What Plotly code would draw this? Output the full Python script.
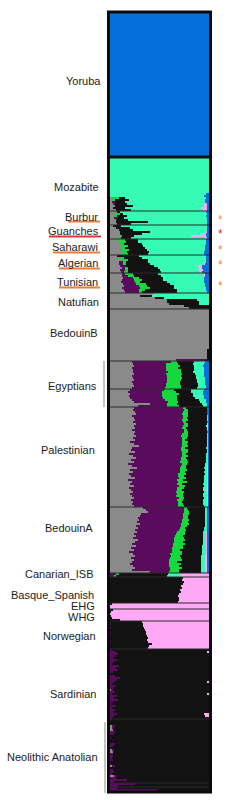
import plotly.graph_objects as go

# ---------------- data ----------------
# ancestry components, stacked left -> right
COMPONENTS = ["gray", "purple", "green", "black", "teal", "pink", "blue"]
COLORS = ["#8a8a8a", "#5a0b5e", "#14d83c", "#121212", "#35fbb6", "#ffa8f6", "#0570da"]

# each row = one individual: (gray, purple, green, black, teal, pink, blue) in %
YORUBA = [(0, 0, 0, 0, 0, 0, 100)] * 72
MOZABITE = [(0, 0, 0, 0, 100, 0, 0)] * 18 + [
    (0, 0, 0, 0, 97, 0, 3), (0, 0, 0, 0, 95, 0, 5), (4, 0, 5, 6, 82, 0, 3),
    (3, 0, 2, 14, 77, 0, 4), (2, 3, 0, 10, 81, 0, 4), (4, 1, 0, 12, 78, 3, 2),
    (5, 0, 0, 18, 72, 3, 2), (3, 0, 0, 12, 77, 6, 2), (6, 0, 0, 15, 73, 4, 2)]
BURBUR = [(7, 0, 0, 3, 87, 0, 3), (6, 0, 5, 2, 85, 0, 2), (5, 0, 2, 10, 80, 0, 3),
          (4, 4, 0, 6, 84, 0, 2), (6, 0, 0, 12, 80, 0, 2), (6, 0, 0, 32, 60, 0, 2),
          (7, 0, 0, 14, 77, 0, 2)]
GUANCHES = [(3, 0, 0, 8, 87, 0, 2), (6, 0, 0, 14, 78, 0, 2), (9, 0, 0, 14, 75, 0, 2),
            (10, 0, 0, 30, 57, 1, 2), (10, 0, 0, 22, 60, 5, 3), (12, 0, 0, 12, 58, 15, 3),
            (8, 0, 3, 10, 75, 2, 2)]
SAHARAWI = [(10, 0, 5, 13, 69, 0, 3), (8, 0, 8, 12, 69, 0, 3), (11, 0, 3, 18, 65, 0, 3),
            (12, 0, 6, 15, 63, 0, 4), (10, 0, 5, 20, 61, 0, 4), (12, 0, 7, 18, 59, 0, 4),
            (13, 0, 4, 22, 56, 0, 5), (12, 0, 6, 20, 56, 1, 5)]
ALGERIAN = [(7, 0, 0, 22, 68, 0, 3), (10, 0, 4, 18, 65, 0, 3), (12, 0, 6, 20, 59, 0, 3),
            (9, 4, 3, 22, 58, 1, 3), (9, 5, 2, 24, 55, 1, 4), (10, 6, 0, 28, 45, 4, 7),
            (12, 4, 2, 30, 42, 3, 7), (10, 5, 3, 32, 40, 4, 6), (11, 3, 4, 34, 39, 2, 7)]
TUNISIAN = [(12, 3, 8, 25, 47, 1, 4), (12, 6, 6, 28, 43, 1, 4), (13, 10, 6, 25, 41, 0, 5),
            (12, 12, 8, 22, 41, 0, 5), (11, 14, 5, 28, 37, 0, 5), (13, 13, 10, 25, 35, 0, 4),
            (14, 15, 8, 28, 31, 0, 4), (12, 18, 10, 25, 32, 0, 3), (14, 15, 6, 33, 29, 0, 3),
            (15, 14, 3, 36, 30, 0, 2)]
NATUFIAN = [(43, 0, 0, 0, 57, 0, 0), (30, 0, 0, 12, 58, 0, 0), (45, 0, 0, 10, 45, 0, 0),
            (58, 0, 0, 30, 12, 0, 0), (58, 0, 0, 32, 10, 0, 0), (60, 0, 0, 30, 10, 0, 0),
            (75, 0, 0, 25, 0, 0, 0), (80, 0, 0, 20, 0, 0, 0)]
BEDOUIN_B = [(100, 0, 0, 0, 0, 0, 0)] * 20 + [(98, 0, 0, 2, 0, 0, 0)] * 5 + [(67, 30, 0, 3, 0, 0, 0)]
EGYPTIANS_1 = [(22, 40, 6, 17, 11, 0, 4), (23, 34, 12, 15, 11, 0, 5), (24, 33, 14, 14, 9, 0, 6),
               (22, 35, 12, 16, 10, 0, 5), (23, 34, 15, 13, 10, 0, 5), (23, 36, 13, 12, 11, 0, 5),
               (24, 33, 16, 13, 9, 0, 5), (22, 36, 14, 15, 8, 0, 5), (23, 35, 15, 14, 9, 0, 4),
               (24, 34, 14, 16, 8, 0, 4), (22, 36, 13, 17, 8, 0, 4), (23, 34, 14, 18, 7, 0, 4),
               (24, 33, 15, 17, 8, 0, 3), (22, 34, 16, 16, 9, 0, 3)]
EGYPTIANS_2 = [(20, 35, 10, 17, 13, 0, 5), (18, 35, 14, 15, 12, 0, 6), (20, 33, 17, 14, 10, 0, 6),
               (19, 34, 15, 16, 11, 0, 5), (20, 34, 14, 18, 9, 0, 5), (22, 34, 12, 22, 7, 0, 3),
               (24, 35, 10, 22, 6, 0, 3), (40, 18, 10, 25, 5, 0, 2), (28, 30, 12, 24, 4, 0, 2)]
PALESTINIAN = [
    (24, 50, 3, 21, 0, 0, 2), (23, 52, 4, 19, 0, 0, 2), (25, 49, 5, 19, 0, 0, 2), (26, 47, 6, 19, 0, 0, 2),
    (22, 52, 5, 19, 1, 0, 1), (24, 50, 4, 20, 1, 0, 1), (25, 48, 6, 19, 1, 0, 1), (23, 51, 3, 21, 0, 0, 2),
    (26, 49, 4, 19, 0, 1, 1), (24, 50, 5, 18, 1, 1, 1), (25, 48, 4, 21, 0, 1, 1), (22, 53, 3, 20, 1, 0, 1),
    (25, 50, 4, 19, 0, 0, 2), (24, 49, 6, 19, 1, 0, 1), (26, 46, 7, 19, 1, 0, 1), (23, 50, 5, 20, 1, 0, 1),
    (25, 48, 3, 22, 1, 0, 1), (20, 53, 6, 19, 1, 0, 1), (24, 49, 5, 20, 1, 0, 1), (29, 44, 6, 19, 1, 0, 1),
    (22, 50, 4, 21, 2, 0, 1), (21, 51, 7, 19, 1, 0, 1), (25, 48, 6, 19, 1, 0, 1), (19, 54, 4, 20, 2, 0, 1),
    (23, 50, 6, 18, 2, 0, 1), (26, 46, 5, 20, 2, 0, 1), (21, 51, 6, 19, 2, 0, 1), (24, 47, 8, 18, 2, 0, 1),
    (18, 55, 5, 18, 3, 0, 1), (22, 50, 5, 19, 2, 1, 1), (27, 44, 6, 18, 3, 1, 1), (20, 51, 7, 18, 2, 1, 1),
    (23, 48, 5, 19, 3, 1, 1), (19, 50, 8, 19, 2, 1, 1), (21, 48, 6, 20, 3, 1, 1), (25, 45, 7, 18, 3, 1, 1),
    (18, 50, 6, 21, 3, 1, 1), (22, 47, 9, 17, 3, 1, 1), (20, 48, 5, 21, 4, 1, 1), (24, 46, 6, 19, 3, 1, 1),
    (19, 49, 7, 19, 4, 1, 1), (21, 47, 5, 21, 3, 2, 1), (23, 44, 8, 20, 3, 1, 1), (20, 48, 6, 20, 4, 1, 1),
    (22, 45, 7, 20, 4, 1, 1), (24, 46, 5, 20, 3, 1, 1), (21, 47, 6, 20, 4, 1, 1), (23, 46, 4, 21, 4, 1, 1),
    (22, 47, 5, 20, 4, 1, 1), (24, 45, 6, 20, 3, 1, 1)]
BEDOUIN_A = [
    (33, 42, 3, 18, 2, 0, 2), (36, 39, 4, 17, 2, 0, 2), (38, 37, 5, 16, 2, 0, 2), (31, 43, 6, 16, 2, 0, 2),
    (30, 44, 5, 17, 2, 0, 2), (28, 46, 5, 17, 2, 0, 2), (29, 44, 7, 16, 2, 0, 2), (27, 46, 6, 17, 2, 0, 2),
    (30, 42, 8, 16, 2, 0, 2), (26, 46, 6, 18, 2, 0, 2), (28, 43, 5, 19, 3, 0, 2), (25, 45, 7, 18, 3, 0, 2),
    (27, 41, 8, 18, 3, 1, 2), (24, 43, 9, 18, 3, 1, 2), (26, 40, 8, 20, 3, 1, 2), (23, 42, 10, 19, 3, 1, 2),
    (28, 37, 11, 18, 3, 1, 2), (25, 40, 9, 20, 3, 1, 2), (22, 42, 12, 18, 3, 1, 2), (26, 38, 10, 19, 4, 1, 2),
    (21, 42, 11, 19, 4, 1, 2), (24, 39, 8, 22, 4, 1, 2), (19, 44, 10, 20, 4, 1, 2), (23, 38, 12, 20, 4, 1, 2),
    (25, 37, 9, 21, 4, 2, 2), (21, 40, 11, 20, 4, 2, 2), (24, 36, 13, 19, 4, 2, 2), (22, 38, 8, 24, 4, 2, 2),
    (20, 40, 12, 20, 4, 2, 2), (23, 37, 10, 22, 4, 2, 2), (25, 36, 12, 19, 4, 2, 2), (22, 39, 9, 22, 4, 2, 2),
    (40, 20, 10, 22, 4, 2, 2)]
CANARIAN_ISB = [(0, 7, 2, 50, 12, 29, 0), (0, 5, 1, 52, 14, 28, 0)]
BASQUE_SPANISH = [(0, 0, 0, 74, 0, 26, 0), (0, 0, 0, 73, 0, 27, 0), (0, 0, 0, 75, 0, 25, 0),
                  (0, 0, 0, 74, 0, 26, 0), (0, 0, 0, 72, 0, 28, 0), (0, 0, 0, 73, 0, 27, 0),
                  (0, 0, 0, 71, 0, 29, 0), (0, 0, 0, 72, 0, 28, 0), (0, 0, 0, 70, 0, 30, 0),
                  (0, 0, 0, 69, 0, 31, 0), (0, 0, 0, 70, 0, 30, 0), (0, 0, 0, 70, 0, 30, 0),
                  (0, 0, 0, 69, 0, 31, 0)]
EHG = [(0, 0, 0, 2, 0, 98, 0), (0, 0, 0, 0, 0, 100, 0), (0, 0, 0, 0, 0, 100, 0)]
WHG = [(0, 0, 0, 3, 0, 97, 0), (0, 0, 0, 1, 0, 99, 0), (0, 0, 0, 0, 0, 100, 0),
       (0, 0, 0, 1, 0, 99, 0), (0, 0, 0, 2, 0, 98, 0), (0, 0, 0, 10, 0, 90, 0)]
NORWEGIAN = [(0, 0, 0, 32, 0, 68, 0), (0, 1, 0, 32, 0, 67, 0), (0, 0, 0, 33, 0, 67, 0),
             (0, 1, 0, 33, 0, 66, 0), (0, 0, 0, 35, 0, 65, 0), (0, 0, 0, 36, 0, 64, 0),
             (0, 1, 0, 35, 0, 64, 0), (0, 0, 0, 37, 0, 63, 0), (0, 0, 0, 38, 0, 62, 0),
             (0, 0, 0, 37, 0, 63, 0), (0, 1, 0, 37, 0, 62, 0), (0, 0, 0, 42, 0, 58, 0),
             (0, 0, 0, 39, 0, 61, 0), (0, 0, 0, 38, 0, 62, 0)]
SARDINIAN = [
    (0, 2, 0, 98, 0, 0, 0), (0, 6, 0, 92, 0, 2, 0), (0, 8, 0, 92, 0, 0, 0), (0, 5, 0, 95, 0, 0, 0),
    (0, 3, 0, 97, 0, 0, 0), (0, 7, 0, 93, 0, 0, 0), (0, 4, 0, 96, 0, 0, 0), (0, 2, 0, 98, 0, 0, 0),
    (0, 9, 0, 91, 0, 0, 0), (0, 6, 0, 94, 0, 0, 0), (0, 8, 0, 92, 0, 0, 0), (0, 3, 0, 97, 0, 0, 0),
    (0, 0, 0, 100, 0, 0, 0), (0, 5, 0, 95, 0, 0, 0), (0, 10, 0, 90, 0, 0, 0), (0, 7, 0, 93, 0, 0, 0),
    (0, 4, 0, 94, 0, 2, 0), (0, 2, 0, 98, 0, 0, 0), (0, 6, 0, 94, 0, 0, 0), (0, 3, 0, 97, 0, 0, 0),
    (2, 1, 0, 97, 0, 0, 0), (0, 5, 0, 95, 0, 0, 0), (0, 2, 0, 96, 0, 2, 0), (0, 7, 0, 93, 0, 0, 0),
    (0, 4, 0, 96, 0, 0, 0), (0, 8, 0, 92, 0, 0, 0), (0, 3, 0, 97, 0, 0, 0), (0, 1, 0, 99, 0, 0, 0),
    (0, 6, 0, 94, 0, 0, 0), (0, 2, 0, 98, 0, 0, 0), (0, 5, 0, 95, 0, 0, 0), (0, 3, 0, 97, 0, 0, 0),
    (0, 7, 0, 88, 0, 5, 0), (0, 4, 0, 92, 0, 4, 0), (0, 2, 0, 98, 0, 0, 0)]
ANATOLIAN_PURPLE = [1, 0, 0, 2, 1, 0, 5, 4, 0, 1, 0, 0, 5, 3, 0, 1,
                    0, 3, 3, 2, 3, 0, 1, 2, 0, 3, 4, 2, 3, 6, 17, 4]
ANATOLIAN_GRAY = [0, 0, 0, 3, 3, 3, 0, 0, 0, 0, 0, 0, 0, 0, 0, 3,
                  3, 0, 0, 0, 0, 0, 0, 3, 0, 0, 0, 0, 4, 0, 0, 0]
NEOLITHIC_ANATOLIAN = [(g, p, 0, 100 - g - p, 0, 0, 0) for g, p in zip(ANATOLIAN_GRAY, ANATOLIAN_PURPLE)]
NEOLITHIC_ANATOLIAN_B = [(0, 25, 0, 75, 0, 0, 0), (0, 8, 0, 92, 0, 0, 0)]
NEOLITHIC_ANATOLIAN_C = [(0, 7, 0, 93, 0, 0, 0), (0, 47, 0, 53, 0, 0, 0)]

# blocks in plotting order (top -> bottom)
BLOCKS = [YORUBA, MOZABITE, BURBUR, GUANCHES, SAHARAWI, ALGERIAN, TUNISIAN, NATUFIAN,
          BEDOUIN_B, EGYPTIANS_1, EGYPTIANS_2, PALESTINIAN, BEDOUIN_A, CANARIAN_ISB,
          BASQUE_SPANISH, EHG, WHG, NORWEGIAN, SARDINIAN, NEOLITHIC_ANATOLIAN,
          NEOLITHIC_ANATOLIAN_B, NEOLITHIC_ANATOLIAN_C]

LABELS = ["Yoruba", "Mozabite", "Burbur", "Guanches", "Saharawi", "Algerian", "Tunisian",
          "Natufian", "BedouinB", "Egyptians", "Palestinian", "BedouinA", "Canarian_ISB",
          "Basque_Spanish", "EHG", "WHG", "Norwegian", "Sardinian", "Neolithic Anatolian"]

# ---------------- layout helpers (pixels) ----------------
W, H = 247, 800
L, R, T, B = 110, 209, 13, 791


def px(x):
    return (x - L) / (R - L)


def py(y):
    return (B - y) / (B - T)


# label placement (right edge x, centre y) in pixels
LABEL_POS = [(103, 81), (101, 187), (100, 217), (101, 231), (100, 247), (100, 263), (100, 282),
             (101, 302), (100, 333), (99, 386), (97, 450), (95, 528), (96, 574),
             (96, 595), (97, 606), (97, 617), (98, 636), (98, 694), (100, 757)]

rows = [r for blk in BLOCKS for r in blk]
N = len(rows)
idx = list(range(N))

fig = go.Figure()
for c, (name, col) in enumerate(zip(COMPONENTS, COLORS)):
    xs = [r[c] * 100.0 / sum(r) for r in rows]
    fig.add_trace(go.Bar(x=xs, y=idx, orientation="h", name=name,
                         marker=dict(color=col, line=dict(width=0)),
                         hoverinfo="skip"))

shapes = []
# block separators
cum = 0
for i, blk in enumerate(BLOCKS[:-1]):
    cum += len(blk)
    shapes.append(dict(type="line", xref="x", yref="y", x0=0, x1=100,
                       y0=cum - 0.5, y1=cum - 0.5,
                       line=dict(color="#111111" if i == 0 else "#2a2a2a",
                                 width=3 if i == 0 else 1)))
# frame
shapes.append(dict(type="rect", xref="paper", yref="paper",
                   x0=px(108.5), x1=px(210.5), y0=py(792), y1=py(12),
                   line=dict(color="#0a0a0a", width=3)))
# brackets
shapes.append(dict(type="line", xref="paper", yref="paper", x0=px(104), x1=px(104),
                   y0=py(361), y1=py(407), line=dict(color="#8c8c8c", width=1)))
shapes.append(dict(type="line", xref="paper", yref="paper", x0=px(105), x1=px(105),
                   y0=py(722), y1=py(793), line=dict(color="#8c8c8c", width=1)))
# underlines
UNDERLINES = [(68, 100, 221.5, "#e57a45"), (49, 101, 236.5, "#e8333b"),
              (53, 100, 252.5, "#f07d35"), (59, 100, 268.5, "#f07d35"),
              (59, 100, 287.5, "#f07d35")]
for x0, x1, yy, col in UNDERLINES:
    shapes.append(dict(type="line", xref="paper", yref="paper", x0=px(x0), x1=px(x1),
                       y0=py(yy), y1=py(yy), line=dict(color=col, width=2)))

annotations = []
for text, (xr, yc) in zip(LABELS, LABEL_POS):
    annotations.append(dict(text=text, xref="paper", yref="paper", x=px(xr), y=py(yc),
                            xanchor="right", yanchor="middle", showarrow=False,
                            font=dict(family="Liberation Sans, Arial, sans-serif",
                                      size=11, color="#1c1c1c")))
STARS = [(217, "#d9966c"), (231, "#e02a35"), (247, "#f5892e"), (262, "#f5892e"), (283, "#f5892e")]
for yc, col in STARS:
    annotations.append(dict(text="*", xref="paper", yref="paper", x=px(220), y=py(yc),
                            xanchor="center", yanchor="middle", showarrow=False, yshift=-3,
                            font=dict(family="Liberation Sans, Arial, sans-serif",
                                      size=12, color=col)))

fig.update_layout(
    width=W, height=H,
    margin=dict(l=L, r=W - R, t=T, b=H - B, pad=0),
    barmode="stack", bargap=0,
    showlegend=False,
    paper_bgcolor="white", plot_bgcolor="white",
    xaxis=dict(range=[0, 100], visible=False, fixedrange=True),
    yaxis=dict(range=[N - 0.5, -0.5], visible=False, fixedrange=True),
    shapes=shapes, annotations=annotations,
)

fig.write_html("out.html", config={"displayModeBar": False})
